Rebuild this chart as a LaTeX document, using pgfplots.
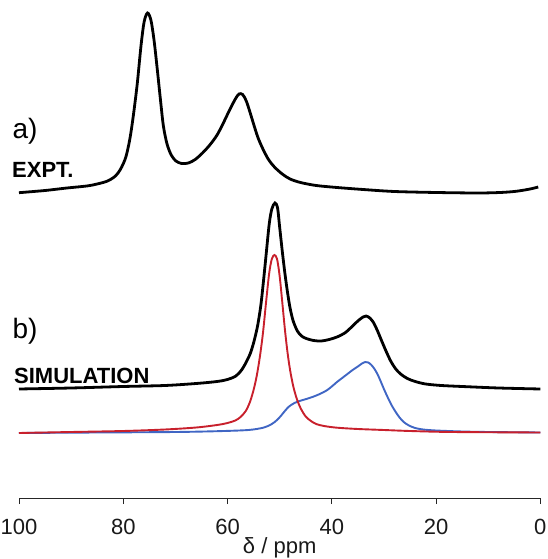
\documentclass[border=0pt]{standalone}
\usepackage{fontspec}
\setmainfont{Liberation Sans}
\usepackage{pgfplots}
\pgfplotsset{compat=1.18}
\usetikzlibrary{calc}
\definecolor{simred}{RGB}{200,32,44}
\definecolor{simblue}{RGB}{64,102,196}
\begin{document}
\begin{tikzpicture}
\begin{axis}[name=ax, scale only axis, width=521.3pt, height=498pt,
  xmin=0, xmax=100, ymin=0, ymax=498, x dir=reverse, clip=false,
  axis x line=bottom, axis y line=none,
  x axis line style={-, line width=0.9pt, color=black!85},
  xtick={0,20,40,60,80,100}, tick align=outside, major tick length=6pt,
  xtick style={line width=0.9pt, color=black!85},
  minor tick num=0,
  /pgf/number format/assume math mode=true,
  ticklabel style={font=\fontsize{22}{22}\selectfont, text=black!90},
  xticklabel style={yshift=-12pt},
  xlabel={δ / ppm},
  xlabel style={font=\fontsize{22}{22}\selectfont, text=black!90, yshift=4pt},
]
% EXPT.
\addplot[black, line width=2.8pt, smooth, tension=0.5] coordinates {
(100,305.3) (95,307.5) (90.8,310) (87,312) (85,314) (83,317) (81.5,322)
(80.5,329) (79.5,341) (78.7,360) (78.0,385) (77.3,415) (76.6,452) (76.0,476)
(75.35,485) (74.7,478) (74.1,458) (73.5,430) (72.9,400) (72.3,372) (71.6,354)
(70.8,343) (69.9,337) (68.8,334.5) (67.5,335) (66.2,338.5) (64.8,345) (63.4,353)
(62.0,363) (60.8,375) (59.6,388) (58.5,399) (57.8,404) (57.1,403.5) (56.4,397)
(55.7,386) (55.0,374) (54.2,361) (53.3,350) (52.2,339) (51.0,331) (49.5,324)
(48.0,319) (46.0,315.5) (43.0,312.5) (39,310.5) (34,308.5) (28,306.5)
(20,305.5) (12,305) (7.7,305.5) (5,306.5) (3,308) (1.5,309.5) (0.4,311)
};
% SIMULATION total
\addplot[black, line width=2.8pt, smooth, tension=0.5] coordinates {
(100,109) (90,110) (80,111.5) (72,112.5) (66,114.5) (62,116.5) (60,118.5)
(58.4,122) (57.3,128) (56.4,136) (55.6,145) (54.9,157) (54.2,173) (53.6,193)
(53.1,217) (52.6,243) (52.0,274) (51.5,289) (50.9,295) (50.4,290) (50.0,271)
(49.5,247) (49.0,225) (48.5,206) (48.0,190) (47.4,177) (46.6,167) (45.8,162)
(44.9,159.5) (43.5,157.5) (42.0,157) (40.5,158.5) (39.0,161) (37.5,165)
(36.2,171) (35.0,177) (34.0,181) (33.4,182) (32.7,180) (32.0,175.5)
(31.3,168) (30.5,158) (29.6,147) (28.7,137) (27.8,129.5) (26.8,124)
(25.5,119.5) (24.0,116.5) (22,114) (19,112.5) (15,111.5) (8,110) (0,109)
};
% blue component
\addplot[simblue, line width=1.9pt, smooth, tension=0.5] coordinates {
(100,65) (85,65.5) (70,66) (62,66.8) (56,68) (53,70.5) (51.5,74) (50.5,78)
(49.7,82.5) (49.0,87) (48.3,91) (47.5,94) (46.5,96.5) (45.2,98.5) (43.7,101)
(42.3,104) (41.0,107.5) (40.0,111.5) (39.0,116) (38.0,120) (37.0,124)
(36.0,128) (35.0,131.5) (34.2,134.5) (33.6,136) (33.0,135.5) (32.4,133)
(31.8,129) (31.2,123.5) (30.6,116.5) (30.0,109) (29.3,101) (28.6,93.5)
(27.8,86.5) (27.0,80.5) (26.2,76) (25.2,72.5) (24.0,70) (22.5,68.5)
(20,67.5) (15,66.5) (10,66) (0,65.5)
};
% red component
\addplot[simred, line width=1.9pt, smooth, tension=0.5] coordinates {
(100,65) (90,66) (80,67) (72,68.5) (66,70.5) (62,73) (60,75) (58.5,77.5)
(57.5,81) (56.5,87) (55.7,96) (55.0,108) (54.4,122) (53.8,141) (53.2,165)
(52.6,196) (52.0,225) (51.5,239) (51.0,243) (50.5,239) (50.0,222) (49.5,196)
(49.0,169) (48.5,146) (48.0,128) (47.4,112) (46.7,99) (45.9,89) (45.0,81.5)
(44.0,77) (43.0,74) (41.5,72) (39,70.3) (35,69) (30,68) (25,67) (17,66)
(0,65.5)
};
\node[anchor=base west, inner sep=0, font=\fontsize{28}{28}\selectfont] at (axis cs:101.25,359) {a)};
\node[anchor=base west, inner sep=0, font=\bfseries\fontsize{22}{22}\selectfont] at (axis cs:101.34,320.7) {EXPT.};
\node[anchor=base west, inner sep=0, font=\fontsize{28}{28}\selectfont] at (axis cs:101.25,159) {b)};
\node[anchor=base west, inner sep=0, font=\bfseries\fontsize{22}{22}\selectfont] at (axis cs:100.96,114.7) {SIMULATION};
\end{axis}
\pgfresetboundingbox
\path[use as bounding box] ($(ax.south west)+(-19pt,-61pt)$) rectangle ($(ax.north east)+(7.7pt,0pt)$);
\end{tikzpicture}
\end{document}
